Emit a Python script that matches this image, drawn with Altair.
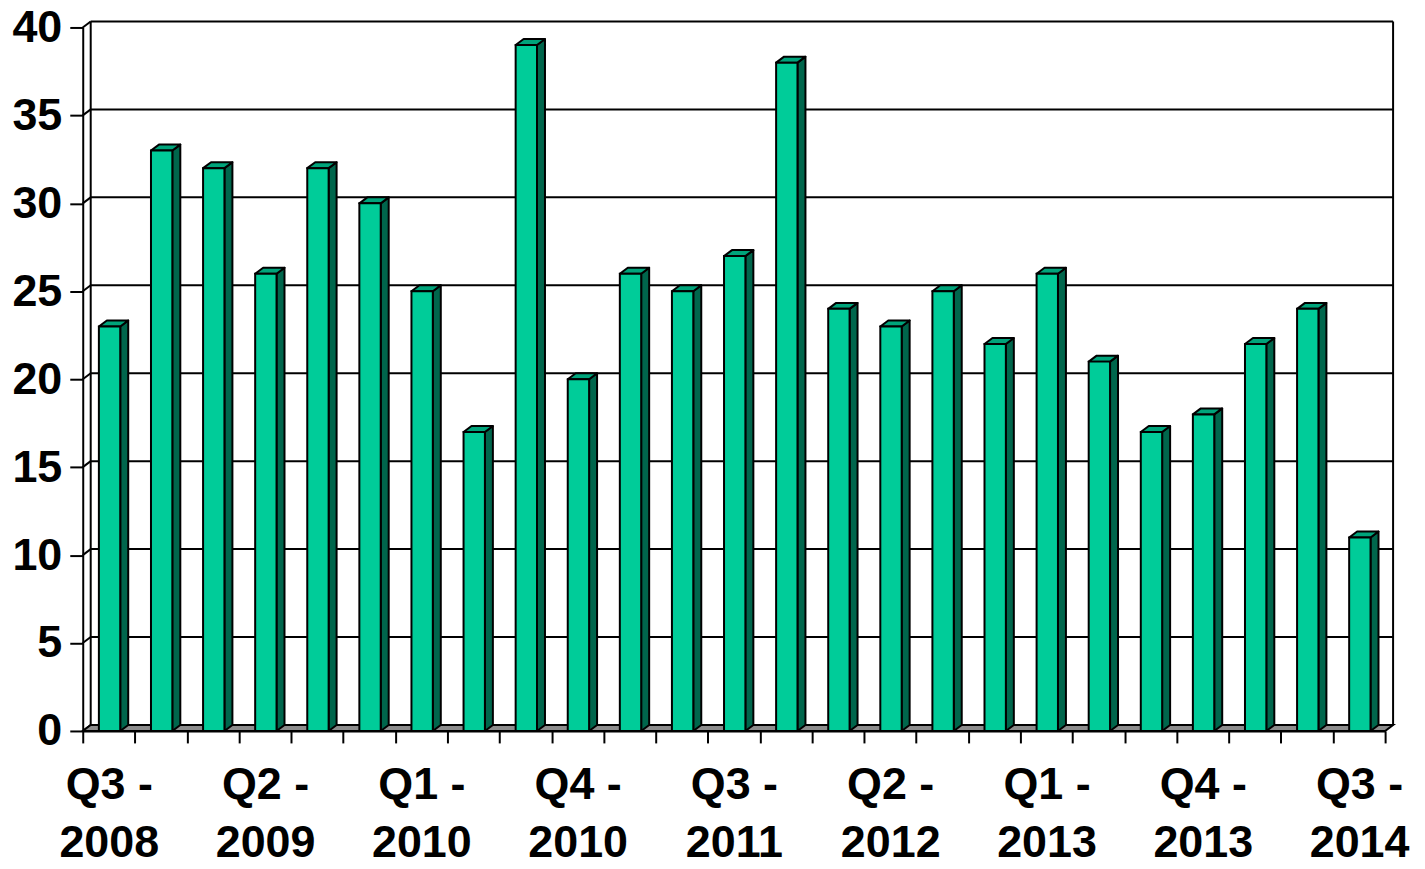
import json
import altair as alt
import pandas as pd

# ---------------- data ----------------
QUARTERS = ["Q3 - 2008", "Q4 - 2008", "Q1 - 2009", "Q2 - 2009", "Q3 - 2009", "Q4 - 2009",
            "Q1 - 2010", "Q2 - 2010", "Q3 - 2010", "Q4 - 2010", "Q1 - 2011", "Q2 - 2011",
            "Q3 - 2011", "Q4 - 2011", "Q1 - 2012", "Q2 - 2012", "Q3 - 2012", "Q4 - 2012",
            "Q1 - 2013", "Q2 - 2013", "Q3 - 2013", "Q4 - 2013", "Q1 - 2014", "Q2 - 2014",
            "Q3 - 2014"]
VALUES = [23, 33, 32, 26, 32, 30, 25, 17, 39, 20, 26, 25, 27, 38, 24, 23, 25, 22, 26, 21,
          17, 18, 22, 24, 11]
Y_TICKS = [0, 5, 10, 15, 20, 25, 30, 35, 40]
LABEL_EVERY = 3

# ---------------- geometry constants ----------------
W, H = 1307, 706
N = len(VALUES)
YMAX = 40
DX = 8 / (W / N)      # depth offset (8px) in x data units
DY = 6 / (H / YMAX)   # depth offset (6px) in y data units
BAR_L, BAR_R = 0.31, 0.72

FRONT = "#00CC99"
TOP = "#00A47B"
SIDE = "#00664C"
FLOOR = "#8C8C8C"

# ---------------- tables ----------------
front = pd.DataFrame({"id": list(range(N)),
                      "x": [i + BAR_L for i in range(N)],
                      "x2": [i + BAR_R for i in range(N)],
                      "y": [0] * N,
                      "y2": VALUES})

side_rows, top_rows = [], []
for i, v in enumerate(VALUES):
    xl, xr = i + BAR_L, i + BAR_R
    side_rows += [{"id": i, "x": xr, "y": 0, "y2": v},
                  {"id": i, "x": xr + DX, "y": DY, "y2": v + DY}]
    top_rows += [{"id": i, "x": xl, "y": v, "y2": v},
                 {"id": i, "x": xl + DX, "y": v, "y2": v + DY},
                 {"id": i, "x": xr, "y": v, "y2": v + DY},
                 {"id": i, "x": xr + DX, "y": v + DY, "y2": v + DY}]
side = pd.DataFrame(side_rows)
top = pd.DataFrame(top_rows)

floor = pd.DataFrame([{"id": 0, "x": 0, "y": 0, "y2": 0},
                      {"id": 0, "x": DX, "y": 0, "y2": DY},
                      {"id": 0, "x": N, "y": 0, "y2": DY},
                      {"id": 0, "x": N + DX, "y": DY, "y2": DY}])

grid = pd.DataFrame({"x": [DX] * len(Y_TICKS), "x2": [N + DX] * len(Y_TICKS),
                     "y": [t + DY for t in Y_TICKS]})
diag = pd.DataFrame({"x": [0] * len(Y_TICKS), "x2": [DX] * len(Y_TICKS),
                     "y": Y_TICKS, "y2": [t + DY for t in Y_TICKS]})
walls = pd.DataFrame({"x": [DX, N + DX], "y": [DY, DY], "y2": [YMAX + DY, YMAX + DY]})

# ---------------- axes / scales ----------------
label_arr = [q.replace(" - ", " -|").split("|") if i % LABEL_EVERY == 0 else ""
             for i, q in enumerate(QUARTERS)]
label_expr = f"datum.value < {N} ? {json.dumps(label_arr)}[datum.value] : ''"

FONT = "Liberation Sans"
xs = alt.Scale(domain=[0, N], nice=False, zero=False)
ys = alt.Scale(domain=[0, YMAX], nice=False)
x_axis = alt.Axis(values=list(range(N + 1)), labelExpr=label_expr, title=None,
                  grid=False, tickSize=12, tickWidth=2, domainWidth=2,
                  tickColor="black", domainColor="black", labelColor="black",
                  labelFont=FONT, labelFontSize=45, labelFontWeight="bold",
                  labelOffset=W / N / 2, labelPadding=20, labelLineHeight=58,
                  labelBaseline="top", labelAlign="center",
                  labelOverlap=False, labelFlush=False)
y_axis = alt.Axis(values=Y_TICKS, format="d", title=None, grid=False,
                  tickSize=13, tickWidth=2, domainWidth=2,
                  tickColor="black", domainColor="black", labelColor="black",
                  labelFont=FONT, labelFontSize=45, labelFontWeight="bold",
                  labelPadding=8)

X = alt.X("x:Q", scale=xs, axis=x_axis)
Y = alt.Y("y:Q", scale=ys, axis=y_axis)

grid_l = alt.Chart(grid).mark_rule(color="black", strokeWidth=2).encode(X, alt.X2("x2:Q"), Y)
diag_l = alt.Chart(diag).mark_rule(color="black", strokeWidth=2).encode(
    X, alt.X2("x2:Q"), Y, alt.Y2("y2:Q"))
walls_l = alt.Chart(walls).mark_rule(color="black", strokeWidth=2).encode(X, Y, alt.Y2("y2:Q"))
floor_l = alt.Chart(floor).mark_area(fill=FLOOR, stroke="black", strokeWidth=2,
                                     interpolate="linear").encode(
    X, Y, alt.Y2("y2:Q"), detail="id:N")
side_l = alt.Chart(side).mark_area(fill=SIDE, stroke="black", strokeWidth=2,
                                   interpolate="linear", strokeJoin="round").encode(
    X, Y, alt.Y2("y2:Q"), detail="id:N")
top_l = alt.Chart(top).mark_area(fill=TOP, stroke="black", strokeWidth=2,
                                 interpolate="linear", strokeJoin="round").encode(
    X, Y, alt.Y2("y2:Q"), detail="id:N")
front_l = alt.Chart(front).mark_rect(fill=FRONT, stroke="black", strokeWidth=2).encode(
    X, alt.X2("x2:Q"), Y, alt.Y2("y2:Q"))

chart = alt.layer(grid_l, diag_l, walls_l, floor_l, side_l, top_l, front_l).properties(
    width=W, height=H,
    autosize=alt.AutoSizeParams(type="none"),
    padding={"left": 75, "top": 18, "right": 32, "bottom": 137},
    background="white",
).configure_view(stroke=None)

chart.save("out.html", embed_options={"renderer": "svg", "actions": False})
